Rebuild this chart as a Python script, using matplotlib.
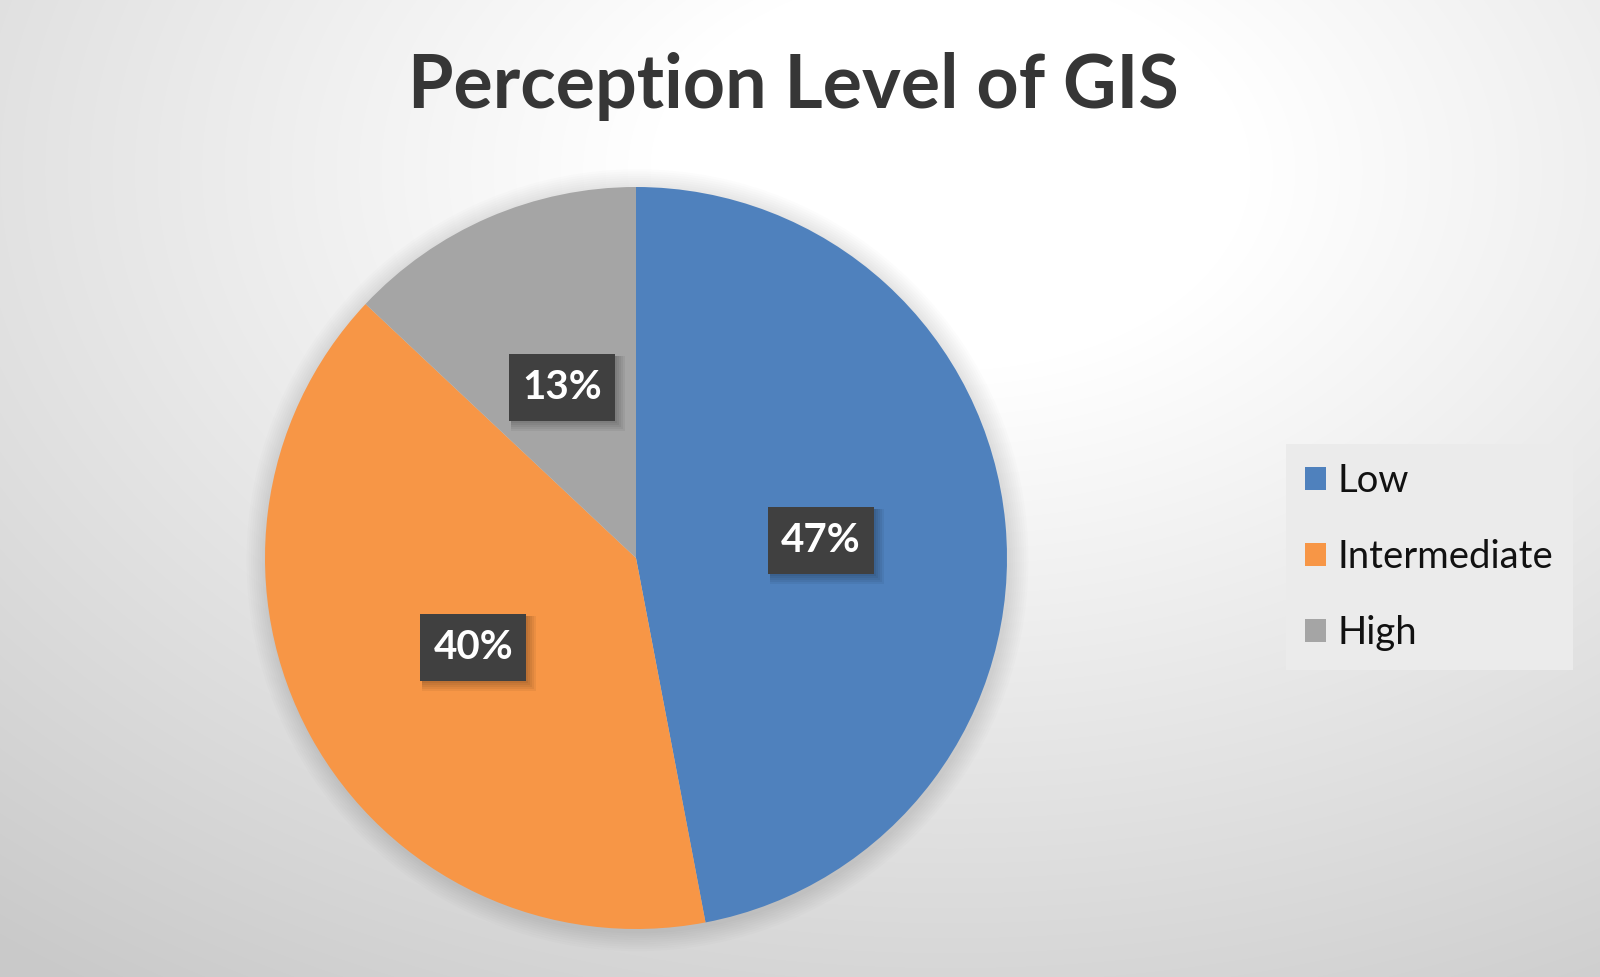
import numpy as np
import matplotlib
matplotlib.use("Agg")
import matplotlib.pyplot as plt
from matplotlib.patches import Rectangle, Patch, Circle

categories = ["Low", "Intermediate", "High"]
values = [47, 40, 13]
pct_labels = ["47%", "40%", "13%"]
colors = ["#4F81BD", "#F79646", "#A5A5A5"]
title = "Perception Level of GIS"

W, H, DPI = 1600, 977, 100
fig = plt.figure(figsize=(W / DPI, H / DPI), dpi=DPI)

# background radial gradient
bg = fig.add_axes([0, 0, 1, 1])
yy, xx = np.mgrid[0:H, 0:W]
d = np.sqrt(((xx - 950) / 1500.0) ** 2 + ((yy - 170) / 1000.0) ** 2)
v = 1.0 - 0.21 * np.clip((d - 0.2) / 0.8, 0, 1)
img = np.dstack([v, v, v])
bg.imshow(img, extent=[0, 1, 0, 1], aspect="auto", origin="upper")
bg.set_xlim(0, 1); bg.set_ylim(0, 1)
bg.axis("off")

# pie
cx, cy, r = 636, 558, 371
ax = fig.add_axes([(cx - r) / W, (H - cy - r) / H, 2 * r / W, 2 * r / H])
for k in range(1, 10):
    ax.add_patch(Circle((0.004, -0.006), 1.0 + k * 0.006, facecolor="black",
                        alpha=0.012, linewidth=0, zorder=0, clip_on=False))
wedges, _ = ax.pie(values, colors=colors, startangle=90, counterclock=False,
                   radius=1.0, wedgeprops=dict(linewidth=0, zorder=1))
ax.set_xlim(-1, 1); ax.set_ylim(-1, 1)
ax.set_aspect("equal")
ax.axis("off")

bw, bh = 106 / r, 67 / r
for w, lab in zip(wedges, pct_labels):
    ang = np.deg2rad((w.theta1 + w.theta2) / 2)
    x, y = 0.5 * np.cos(ang), 0.5 * np.sin(ang)
    for k in range(5):
        off = (2 + k) / r
        grow = (2 * k) / r
        ax.add_patch(Rectangle((x - bw / 2 + off - grow / 2, y - bh / 2 - off - grow / 2),
                               bw + grow, bh + grow,
                               facecolor="black", alpha=0.05, linewidth=0, zorder=3))
    ax.add_patch(Rectangle((x - bw / 2, y - bh / 2), bw, bh, facecolor="#404040",
                           edgecolor="none", linewidth=0, zorder=4))
    ax.text(x, y, lab, ha="center", va="center", color="white", fontsize=29,
            fontweight="bold", family="Lato", zorder=5)

fig.text(793 / W, 1 - 108 / H, title, ha="center", va="baseline", fontsize=53,
         fontweight="bold", family="Lato", color="#363636")

handles = [Patch(facecolor=c, edgecolor="none") for c in colors]
leg = fig.legend(handles, categories, loc="center",
                 bbox_to_anchor=(1429.5 / W, 1 - 557 / H),
                 prop=dict(family="Lato", size=27.5), frameon=True, fancybox=False,
                 handlelength=0.55, handleheight=0.55, handletextpad=0.3,
                 labelspacing=1.05, borderpad=0.5)
fr = leg.get_frame()
fr.set_facecolor("#ebebeb"); fr.set_edgecolor("none"); fr.set_alpha(1)
for t in leg.get_texts():
    t.set_color("#111111")

fig.savefig("out.png", dpi=DPI)
